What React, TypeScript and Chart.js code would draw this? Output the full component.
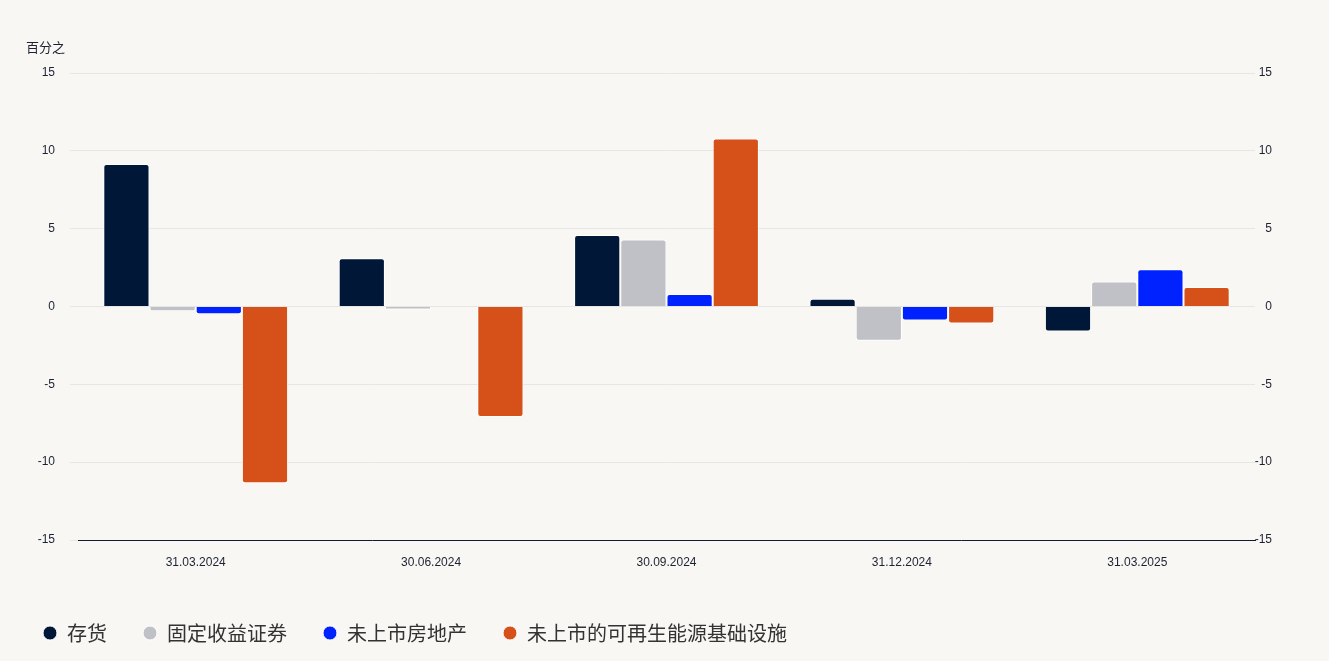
import { useEffect, useRef } from "react";
import { Chart, registerables, Plugin } from "chart.js";

Chart.register(...registerables);

const quarters = ["31.03.2024", "30.06.2024", "30.09.2024", "31.12.2024", "31.03.2025"];
const inventory = [9.15, 3.1, 4.6, 0.5, -1.6];
const fixedIncome = [-0.3, -0.2, 4.3, -2.2, 1.6];
const unlistedRealEstate = [-0.5, 0, 0.8, -0.9, 2.4];
const renewableInfra = [-11.35, -7.1, 10.8, -1.1, 1.25];
const seriesNames = ["存货", "固定收益证券", "未上市房地产", "未上市的可再生能源基础设施"];
const seriesColors = ["#001738", "#bfc1c7", "#0022ff", "#d65119"];
const yMin = -15;
const yMax = 15;
const yStep = 5;
const unitText = "百分之";

const TEXT = "#1c2233";

// draws the unit label above the left axis
const unitLabel: Plugin<"bar"> = {
  id: "unitLabel",
  afterDraw(chart) {
    const { ctx } = chart;
    ctx.save();
    ctx.font = '13px "Noto Sans CJK SC"';
    ctx.fillStyle = TEXT;
    ctx.textBaseline = "middle";
    ctx.textAlign = "left";
    ctx.fillText(unitText, 26, 47);
    ctx.restore();
  },
};

const App = () => {
  const canvasRef = useRef<HTMLCanvasElement | null>(null);
  const chartRef = useRef<Chart | null>(null);

  useEffect(() => {
    const ctx = canvasRef.current?.getContext("2d");
    if (!ctx) return;
    if (chartRef.current) chartRef.current.destroy();

    const values = [inventory, fixedIncome, unlistedRealEstate, renewableInfra];

    chartRef.current = new Chart(ctx, {
      type: "bar",
      data: {
        labels: quarters,
        datasets: values.map((data, i) => ({
          label: seriesNames[i],
          data,
          backgroundColor: seriesColors[i],
          borderColor: "#ffffff",
          borderWidth: 1,
          borderRadius: 3,
          barPercentage: 1,
          categoryPercentage: 0.785,
          yAxisID: "y",
        })),
      },
      options: {
        animation: false,
        responsive: true,
        maintainAspectRatio: false,
        font: { family: "Liberation Sans" },
        layout: { padding: { left: 7, right: 57, top: 73, bottom: 8 } },
        scales: {
          x: {
            grid: { display: false, drawTicks: false },
            border: { display: true, color: "#0d1b35", width: 1 },
            ticks: { color: TEXT, font: { size: 12, family: "Liberation Sans" }, padding: 15 },
            afterFit: (scale) => {
              scale.height = 47;
            },
          },
          y: {
            position: "left",
            min: yMin,
            max: yMax,
            grid: { color: "#e6e6e4", tickLength: 8, drawTicks: true },
            border: { display: false },
            ticks: {
              stepSize: yStep,
              color: TEXT,
              padding: 15,
              font: { size: 12, family: "Liberation Sans" },
            },
            afterFit: (scale) => {
              scale.width = 71;
            },
          },
          y2: {
            position: "right",
            min: yMin,
            max: yMax,
            grid: { display: false, drawTicks: false },
            border: { display: false },
            ticks: {
              stepSize: yStep,
              color: TEXT,
              padding: 0,
              crossAlign: "far",
              font: { size: 12, family: "Liberation Sans" },
            },
            afterFit: (scale) => {
              scale.width = 17;
            },
          },
        },
        plugins: {
          tooltip: { enabled: false },
          legend: {
            position: "bottom",
            align: "start",
            labels: {
              usePointStyle: true,
              pointStyle: "circle",
              pointStyleWidth: 14,
              boxHeight: 10,
              padding: 36,
              color: "#333333",
              font: { size: 20, family: "Noto Sans CJK SC" },
            },
          },
        },
      },
      plugins: [unitLabel],
    });

    return () => {
      if (chartRef.current) {
        chartRef.current.destroy();
        chartRef.current = null;
      }
    };
  }, []);

  return (
    <div
      style={{
        position: "absolute",
        left: 0,
        top: 0,
        width: 1329,
        height: 661,
        background: "#f8f7f4",
      }}
    >
      <canvas ref={canvasRef} />
    </div>
  );
};

export default App;
